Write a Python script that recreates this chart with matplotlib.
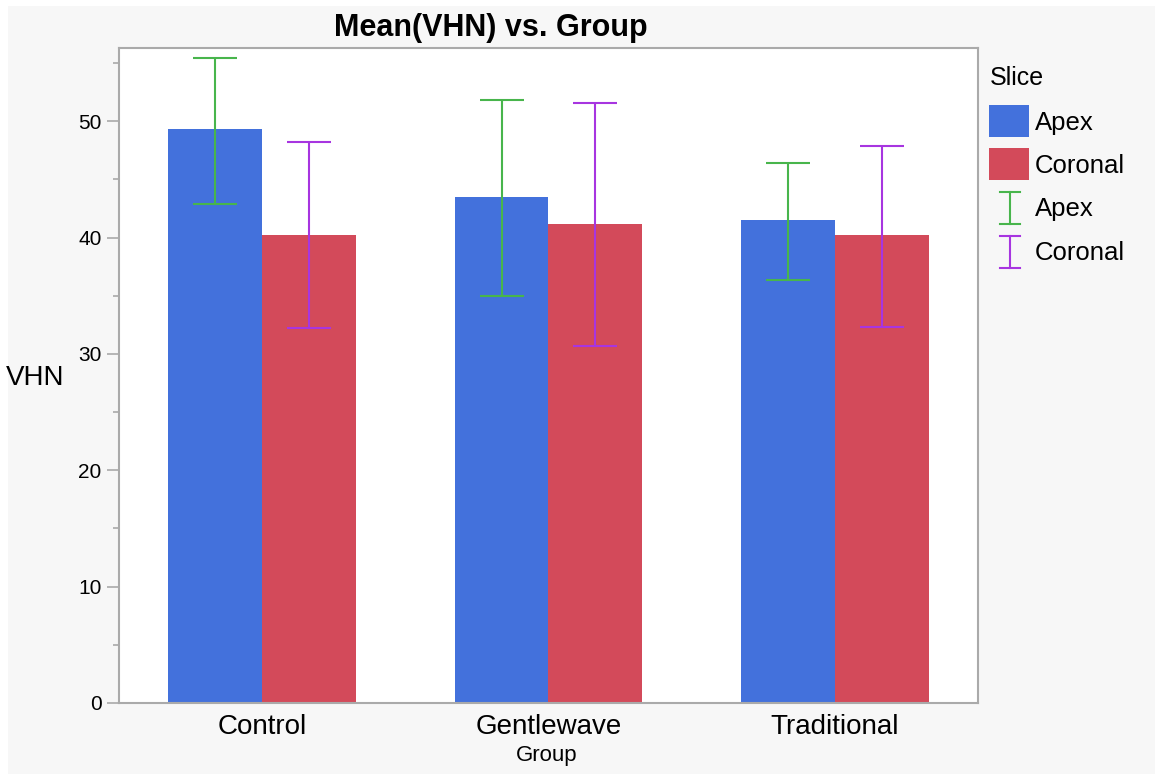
import numpy as np
import matplotlib.pyplot as plt
from matplotlib.patches import Rectangle
from matplotlib.lines import Line2D

# Data
groups = ["Control", "Gentlewave", "Traditional"]
apex_mean = [49.3, 43.5, 41.5]
apex_low = [42.9, 35.0, 36.4]
apex_high = [55.4, 51.8, 46.4]
coronal_mean = [40.2, 41.2, 40.2]
coronal_low = [32.2, 30.7, 32.3]
coronal_high = [48.2, 51.6, 47.9]
legend_labels = ["Apex", "Coronal"]

plt.rcParams.update({
    "font.family": ["Liberation Sans", "DejaVu Sans"],
    "font.size": 12,
})

c_apex = '#4371dc'
c_cor = '#d34a5a'
c_apex_err = '#48b54c'
c_cor_err = '#a735e0'
c_spine = '#aaaaaa'

W, H = 1155, 774
fig = plt.figure(figsize=(W / 100, H / 100), dpi=100)
fig.patch.set_facecolor('white')


def fx(px):
    return px / W


def fy(py):
    return 1 - py / H


# light gray panel behind everything
fig.patches.append(Rectangle((fx(8), 0), 1 - fx(8), fy(6),
                             transform=fig.transFigure, facecolor='#f7f7f7',
                             edgecolor='none', zorder=-10))

ax = fig.add_axes([fx(119), fy(703), (978 - 119) / W, (703 - 48) / H])
ax.set_facecolor('white')

x = np.arange(len(groups))
w = 0.328
ax.bar(x - w / 2, apex_mean, width=w, color=c_apex, zorder=2)
ax.bar(x + w / 2, coronal_mean, width=w, color=c_cor, zorder=2)

apex_err = [np.array(apex_mean) - np.array(apex_low), np.array(apex_high) - np.array(apex_mean)]
cor_err = [np.array(coronal_mean) - np.array(coronal_low), np.array(coronal_high) - np.array(coronal_mean)]
ax.errorbar(x - w / 2, apex_mean, yerr=apex_err, fmt='none', ecolor=c_apex_err,
            elinewidth=1.5, capsize=16, capthick=1.5, zorder=3)
ax.errorbar(x + w / 2, coronal_mean, yerr=cor_err, fmt='none', ecolor=c_cor_err,
            elinewidth=1.5, capsize=16, capthick=1.5, zorder=3)

ax.set_xlim(-0.5, 2.5)
ax.set_ylim(0, 56.3)
ax.set_yticks([0, 10, 20, 30, 40, 50])
ax.set_yticks(np.arange(5, 56, 10), minor=True)
ax.set_xticks(x)
ax.set_xticklabels(groups, fontsize=20)
ax.tick_params(axis='x', length=0, pad=8)
ax.tick_params(axis='y', which='major', length=8.6, width=1.2, color=c_spine,
               labelsize=15, pad=4)
ax.tick_params(axis='y', which='minor', length=4.3, width=1.2, color=c_spine)
for s in ax.spines.values():
    s.set_color(c_spine)
    s.set_linewidth(1.5)

# title centred over plot + y label area
fig.text(fx(491), fy(28), "Mean(VHN) vs. Group", fontsize=22, fontweight='bold',
         ha='center', va='center')
fig.text(fx(35), fy(378), "VHN", fontsize=20, ha='center', va='center')
fig.text(fx(547), fy(755), "Group", fontsize=16, ha='center', va='center')

# legend drawn in figure pixel positions
fig.text(fx(990), fy(78), "Slice", fontsize=18, ha='left', va='center')
for top, col, lab in [(105, c_apex, legend_labels[0]), (148, c_cor, legend_labels[1])]:
    fig.patches.append(Rectangle((fx(989), fy(top + 32)), 40 / W, 32 / H,
                                 transform=fig.transFigure, facecolor=col, edgecolor='none'))
    fig.text(fx(1035), fy(top + 18), lab, fontsize=18.5, ha='left', va='center')
for top, col, lab in [(192, c_apex_err, legend_labels[0]), (236, c_cor_err, legend_labels[1])]:
    bot = top + 32
    for seg in [([1010, 1010], [top, bot]), ([1000, 1020], [top, top]), ([1000, 1020], [bot, bot])]:
        fig.lines.append(Line2D([fx(v) for v in seg[0]], [fy(v) for v in seg[1]],
                                transform=fig.transFigure, color=col, lw=1.5))
    fig.text(fx(1035), fy(top + 17), lab, fontsize=18.5, ha='left', va='center')

fig.savefig('out.png', dpi=100, facecolor=fig.get_facecolor())
